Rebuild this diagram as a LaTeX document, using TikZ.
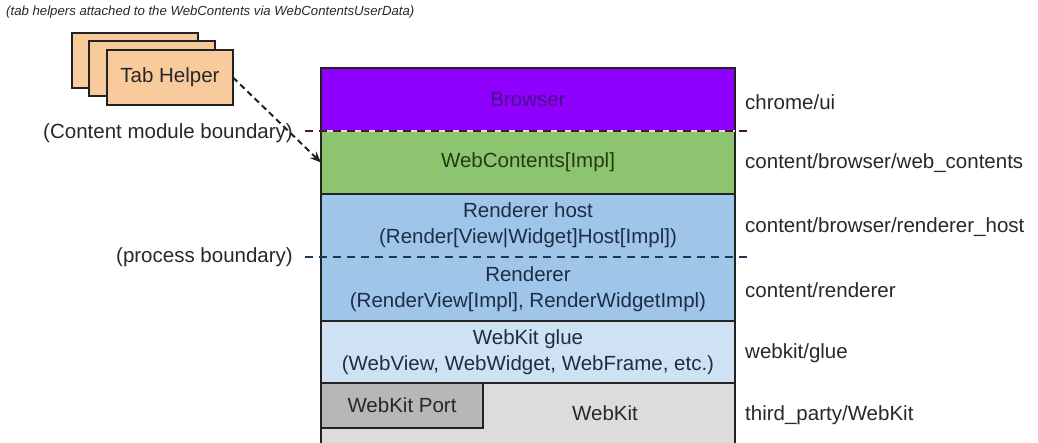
\documentclass[tikz,border=0pt]{standalone}
\usepackage{fontspec}
\setmainfont{Liberation Sans}
\usetikzlibrary{arrows.meta}
\definecolor{browserfill}{RGB}{143,0,255}
\definecolor{browsertext}{RGB}{75,15,135}
\definecolor{wcfill}{RGB}{141,196,111}
\definecolor{wctext}{RGB}{35,60,20}
\definecolor{rendfill}{RGB}{159,197,232}
\definecolor{rendtext}{RGB}{30,45,70}
\definecolor{gluefill}{RGB}{207,226,243}
\definecolor{wkfill}{RGB}{220,220,220}
\definecolor{portfill}{RGB}{183,183,183}
\definecolor{tabfill}{RGB}{249,203,156}
\definecolor{edge}{RGB}{34,34,34}
\definecolor{txt}{RGB}{40,40,40}
\definecolor{procdash}{RGB}{30,55,85}
\begin{document}
\begin{tikzpicture}[x=1pt,y=-1pt,
  mainfont/.style={font=\fontsize{20.5}{26}\selectfont},
  layer/.style={mainfont, draw=edge, line width=2pt, anchor=north west,
    minimum width=414pt, inner sep=0pt, align=center, outer sep=0pt},
  tabhelper/.style={mainfont, draw=edge, fill=tabfill, line width=2pt,
    anchor=north west, minimum width=126pt, minimum height=55pt, inner sep=0pt, outer sep=0pt},
  pathlbl/.style={mainfont, text=txt, anchor=west, inner sep=0pt},
  bndlbl/.style={mainfont, text=txt, anchor=east, inner sep=0pt},
  bnddash/.style={line width=2pt, dash pattern=on 8pt off 6pt},
]
\useasboundingbox (0,0) rectangle (1038,443);

% title
\node[font=\fontsize{13.2}{15}\selectfont\itshape, text=txt, anchor=west, inner sep=0pt]
  (title) at (6,12) {(tab helpers attached to the WebContents via WebContentsUserData)};

% tab helpers
\node[tabhelper] (th1) at (72,33) {};
\node[tabhelper] (th2) at (89,41) {};
\node[tabhelper, text=txt] (th3) at (107,50) {Tab Helper};

% layers
\node[layer, fill=browserfill, text=browsertext, minimum height=63pt] (browser) at (321,68) {Browser};
\node[layer, fill=wcfill, text=wctext, minimum height=63pt] (wc) at (321,131) {WebContents[Impl]};
\node[layer, draw=none, fill=rendfill, text=rendtext, minimum height=63pt] (rhost) at (321,194)
  {Renderer host\\(Render[View|Widget]Host[Impl])};
\node[layer, draw=none, fill=rendfill, text=rendtext, minimum height=64pt] (rend) at (321,257)
  {Renderer\\(RenderView[Impl], RenderWidgetImpl)};
\draw[edge, line width=2pt] (rhost.north west) rectangle (rend.south east);
\node[layer, fill=gluefill, text=rendtext, minimum height=62pt] (glue) at (321,321)
  {WebKit glue\\(WebView, WebWidget, WebFrame, etc.)};
\node[layer, fill=wkfill, minimum height=70pt] (webkit) at (321,383) {};
\node[mainfont, text=txt, inner sep=0pt] (wklabel) at (605,413) {WebKit};
\node[layer, fill=portfill, text=txt, minimum width=162pt, minimum height=45pt] (port) at (321,383) {WebKit Port};

% content module boundary
\coordinate (cb1) at (305,131);
\coordinate (cb2) at (750,131);
\draw[white!75!gray, line width=2.5pt] (browser.south west) -- (browser.south east);
\draw[bnddash, edge!80!purple] (cb1) -- (cb2);
\node[bndlbl] (cblabel) at (293,133) {(Content module boundary)};

% process boundary
\coordinate (pb1) at (305,257);
\coordinate (pb2) at (750,257);
\draw[bnddash, procdash] (pb1) -- (pb2);
\node[bndlbl] (pblabel) at (293,257) {(process boundary)};

% arrow
\draw[-{Stealth[length=11pt,width=9pt]}, line width=2pt, dash pattern=on 6pt off 4pt, edge]
  (th3.east) -- (wc.west);

% path labels
\node[pathlbl] (p1) at (745,102) {chrome/ui};
\node[pathlbl] (p2) at (745,163) {content/browser/web\_contents};
\node[pathlbl] (p3) at (745,227) {content/browser/renderer\_host};
\node[pathlbl] (p4) at (745,290) {content/renderer};
\node[pathlbl] (p5) at (745,353) {webkit/glue};
\node[pathlbl] (p6) at (745,415) {third\_party/WebKit};
\end{tikzpicture}
\end{document}
